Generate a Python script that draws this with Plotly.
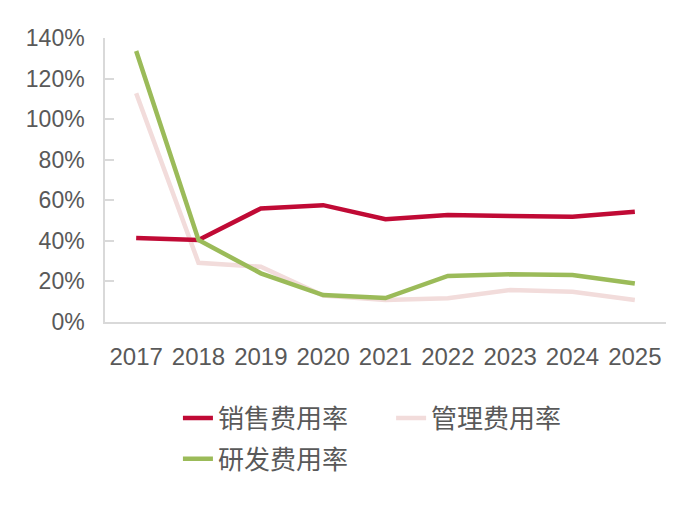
import plotly.graph_objects as go

years = ["2017", "2018", "2019", "2020", "2021", "2022", "2023", "2024", "2025"]
sales_rate = [0.414, 0.404, 0.560, 0.576, 0.507, 0.527, 0.522, 0.519, 0.543]
admin_rate = [1.128, 0.292, 0.272, 0.130, 0.108, 0.117, 0.158, 0.149, 0.108]
rd_rate = [1.336, 0.404, 0.240, 0.133, 0.118, 0.227, 0.235, 0.232, 0.190]

names = ["销售费用率", "管理费用率", "研发费用率"]
colors = ["#C00A35", "#F2DCDB", "#9BBB59"]
series = [sales_rate, admin_rate, rd_rate]
legend_ids = ["legend", "legend2", "legend3"]

fig = go.Figure()
for i in [1, 0, 2]:
    fig.add_trace(go.Scatter(
        x=years, y=series[i], name=names[i], mode="lines",
        line=dict(color=colors[i], width=4.5),
        legend=legend_ids[i],
    ))

legend_font = dict(size=26, family="Noto Sans CJK SC, sans-serif", color="#595959")
legend_pos = [(0.130, -0.338), (0.510, -0.338), (0.130, -0.482)]

layout_legends = {}
for lid, (lx, ly) in zip(legend_ids, legend_pos):
    layout_legends[lid] = dict(
        x=lx, y=ly, xanchor="left", yanchor="middle",
        font=legend_font, bgcolor="rgba(0,0,0,0)",
        orientation="h",
    )

font_family = "Liberation Sans, Noto Sans CJK SC, sans-serif"
fig.update_layout(
    width=700, height=506,
    margin=dict(l=105, r=34, t=38, b=184),
    paper_bgcolor="white", plot_bgcolor="white",
    font=dict(family=font_family, color="#595959", size=22),
    showlegend=True,
    xaxis=dict(
        type="category", range=[-0.5, 8.5],
        showline=True, linecolor="#D9D9D9", linewidth=1.5,
        showgrid=False, ticks="", tickfont=dict(size=24),
        ticklabelstandoff=12,
    ),
    yaxis=dict(
        range=[0, 1.4], tickvals=[0, 0.2, 0.4, 0.6, 0.8, 1.0, 1.2, 1.4],
        tickformat=".0%", showgrid=False, zeroline=False,
        showline=True, linecolor="#D9D9D9", linewidth=1.5,
        ticks="inside", ticklen=9, tickcolor="#D9D9D9", tickwidth=1.5,
        tickfont=dict(size=23), ticklabelstandoff=14,
    ),
    **layout_legends,
)

fig.write_html("out.html")
